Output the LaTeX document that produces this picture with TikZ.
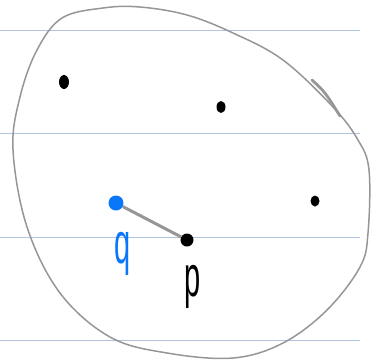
\documentclass[tikz,border=0pt]{standalone}
\usepackage{fontspec}
\setsansfont{Liberation Sans}
\usetikzlibrary{positioning, shapes.geometric}

\definecolor{ruleblue}{RGB}{176,196,226}
\definecolor{penblue}{RGB}{10,118,250}
\definecolor{pengray}{RGB}{150,150,150}

\begin{document}
\begin{tikzpicture}[
  x=1pt, y=-1pt,
  pt/.style={
    ellipse, fill=black, inner sep=0pt,
    minimum width=9pt, minimum height=12pt
  },
  qpt/.style={
    circle, fill=penblue, inner sep=0pt,
    minimum size=15pt
  },
  ppt/.style={
    circle, fill=black, inner sep=0pt,
    minimum size=13pt
  },
  hand/.style={
    font=\sffamily\fontsize{29}{29}\selectfont,
    inner sep=0pt
  },
]
  \useasboundingbox (0,0) rectangle (378,360);

  % -------------------------------------------------------
  %  Ruled paper
  % -------------------------------------------------------
  \foreach \yy in {30,133,237,340}
    \draw[ruleblue, line width=0.8pt] (0,\yy) -- (360,\yy);

  % -------------------------------------------------------
  %  Outline (hand drawn)
  % -------------------------------------------------------
  \draw[pengray, line width=1.5pt] plot[smooth cycle, tension=0.6] coordinates {
    (62,18) (103,8) (140,7) (187,15) (233,33) (283,60) (333,107)
    (358,140) (369,170) (368,233) (360,267) (327,310) (283,343)
    (233,358) (167,353) (110,337) (60,293) (27,227) (13,150)
    (20,97) (37,50)};
  \draw[pengray, line width=2.8pt, line cap=round]
    (312,80) .. controls (325,92) .. (340,116);

  % -------------------------------------------------------
  %  Points
  % -------------------------------------------------------
  \node[pt, minimum width=10pt, minimum height=14pt] (a) at (64,82) {};
  \node[pt] (b) at (221,107) {};
  \node[pt, minimum height=11pt] (c) at (315,201) {};
  \node[qpt] (q) at (116,203) {};
  \node[ppt] (p) at (187,240) {};

  % -------------------------------------------------------
  %  Segment q -- p
  % -------------------------------------------------------
  \draw[pengray, line width=3pt] (q) -- (p);

  % -------------------------------------------------------
  %  Labels
  % -------------------------------------------------------
  \node[hand, text=penblue] (ql) at (123,254) {\scalebox{1}[2]{q}};
  \node[hand, text=black] (pl) at (193,287) {\scalebox{1}[2]{p}};

\end{tikzpicture}
\end{document}
